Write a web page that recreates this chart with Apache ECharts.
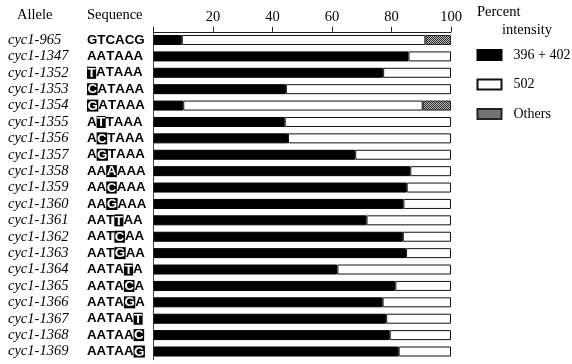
<!DOCTYPE html>
<html>
<head>
<meta charset="utf-8">
<script src="https://cdn.jsdelivr.net/npm/echarts@6/dist/echarts.min.js"></script>
<style>
html,body{margin:0;padding:0;background:#fff;}
#chart{width:572px;height:364px;}
</style>
</head>
<body>
<div id="chart"></div>
<script>
// ---- data ----
var alleles = ['cyc1-965','cyc1-1347','cyc1-1352','cyc1-1353','cyc1-1354','cyc1-1355','cyc1-1356','cyc1-1357','cyc1-1358','cyc1-1359','cyc1-1360','cyc1-1361','cyc1-1362','cyc1-1363','cyc1-1364','cyc1-1365','cyc1-1366','cyc1-1367','cyc1-1368','cyc1-1369'];
var sequences = ['GTCACG','AATAAA','TATAAA','CATAAA','GATAAA','ATTAAA','ACTAAA','AGTAAA','AAAAAA','AACAAA','AAGAAA','AATTAA','AATCAA','AATGAA','AATATA','AATACA','AATAGA','AATAAT','AATAAC','AATAAG'];
var highlightPos = [-1,-1,0,0,0,1,1,1,2,2,2,3,3,3,4,4,4,5,5,5];
var v396 = [9.5,85.7,77.2,44.5,10.0,44.1,45.2,67.8,86.3,85.1,84.0,71.6,83.8,84.9,61.8,81.3,77.0,78.2,79.4,82.4];
var v502 = [81.9,14.3,22.8,55.5,80.5,55.9,54.8,32.2,13.7,14.9,16.0,28.4,16.2,15.1,38.2,18.7,23.0,21.8,20.6,17.6];
var vOthers = [8.6,null,null,null,9.5,null,null,null,null,null,null,null,null,null,null,null,null,null,null,null];
var seriesNames = ['396 + 402','502','Others'];
var xTicks = [20,40,60,80,100];

// hatched pattern
var pc = document.createElement('canvas');
pc.width = 2; pc.height = 2;
var pctx = pc.getContext('2d');
pctx.fillStyle = '#bdbdbd'; pctx.fillRect(0,0,2,2);
pctx.fillStyle = '#2a2a2a'; pctx.fillRect(0,0,1,1); pctx.fillRect(1,1,1,1);

var chart = echarts.init(document.getElementById('chart'), null, {renderer:'canvas'});

var serif = '"Liberation Serif","Times New Roman",serif';
var sans = '"Liberation Sans",Arial,sans-serif';

function labelFor(value, idx) {
  var s = sequences[idx], h = highlightPos[idx];
  var out = '{a|' + value + '}';
  for (var i = 0; i < s.length; i++) {
    out += (i === h ? '{h|' : '{s|') + s[i] + '}';
  }
  return out;
}

var option = {
  animation: false,
  backgroundColor: '#fff',
  grid: {left: 153.5, right: 121, top: 31.8, bottom: 4.3},
  xAxis: {
    type: 'value', position: 'top', min: 0, max: 100, interval: 20,
    axisLine: {show: true, lineStyle: {color: '#222', width: 1}},
    axisTick: {show: true, length: 5, lineStyle: {color: '#222'}},
    splitLine: {show: false},
    axisLabel: {
      margin: 7, color: '#000', fontFamily: serif, fontSize: 14.5,
      formatter: function (v) { return xTicks.indexOf(v) >= 0 ? String(v) : ''; }
    }
  },
  yAxis: {
    type: 'category', data: alleles, inverse: true,
    axisLine: {show: true, lineStyle: {color: '#444', width: 1}},
    axisTick: {show: false},
    axisLabel: {
      align: 'left', margin: 145.5, color: '#000',
      formatter: labelFor,
      rich: {
        a: {fontFamily: serif, fontStyle: 'italic', fontSize: 14.5, width: 79, color: '#000'},
        s: {fontFamily: sans, fontWeight: 'bold', fontSize: 13.3, color: '#000'},
        h: {fontFamily: sans, fontWeight: 'bold', fontSize: 13.3, color: '#fff', backgroundColor: '#000', padding: [0, 0.5, -1, 0.5]}
      }
    }
  },
  legend: {
    orient: 'vertical', left: 476.5, top: 47, padding: 0,
    itemWidth: 24, itemHeight: 10, itemGap: 13.5,
    icon: 'rect',
    data: seriesNames,
    textStyle: {fontFamily: serif, fontSize: 14, color: '#000', lineHeight: 16, padding: [0, 0, 0, 7]}
  },
  graphic: [
    {type: 'text', left: 17, top: 8, style: {text: 'Allele', font: '14.5px ' + serif, fill: '#000'}},
    {type: 'text', left: 87, top: 8, style: {text: 'Sequence', font: '14.5px ' + serif, fill: '#000'}},
    {type: 'text', left: 477, top: 5, style: {text: 'Percent', font: '14.5px ' + serif, fill: '#000'}},
    {type: 'text', left: 502, top: 23, style: {text: 'intensity', font: '14.5px ' + serif, fill: '#000'}}
  ],
  series: [
    {name: seriesNames[0], type: 'bar', stack: 'total', data: v396, barWidth: 10,
     itemStyle: {color: '#000', borderColor: '#000', borderWidth: 1}},
    {name: seriesNames[1], type: 'bar', stack: 'total', data: v502, barWidth: 10,
     itemStyle: {color: '#fff', borderColor: '#111', borderWidth: 1}},
    {name: seriesNames[2], type: 'bar', stack: 'total', data: vOthers, barWidth: 10,
     itemStyle: {color: {image: pc, repeat: 'repeat'}, borderColor: '#222', borderWidth: 1}}
  ]
};
chart.setOption(option);
</script>
</body>
</html>
